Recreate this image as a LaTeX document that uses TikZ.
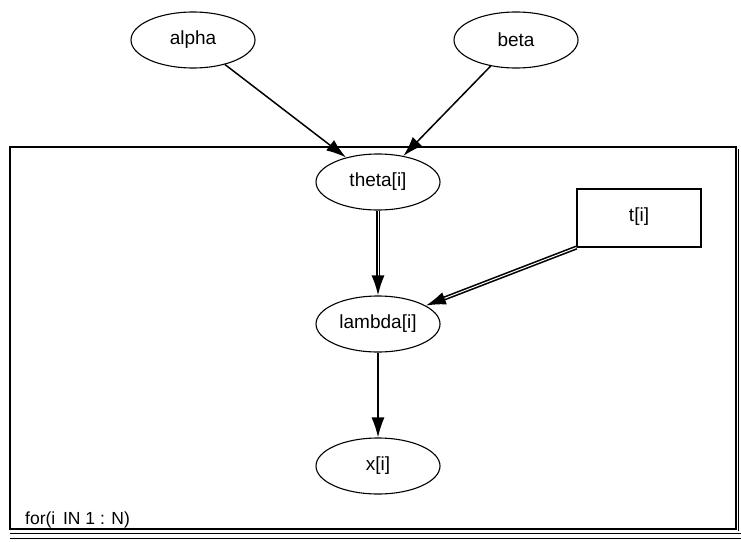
\documentclass[tikz,border=0pt]{standalone}
\usepackage{fontspec}
\setmainfont{Liberation Sans}
\usetikzlibrary{shapes.geometric,arrows.meta}

\begin{document}
\begin{tikzpicture}[x=1pt,y=-1pt,
  stoch/.style={draw,line width=1.1pt,ellipse,minimum width=124pt,
                minimum height=56pt,inner sep=0pt,font=\fontsize{19}{21}\selectfont},
  const/.style={draw,line width=1.1pt,rectangle,minimum width=124pt,
                minimum height=58pt,inner sep=0pt,font=\fontsize{19}{21}\selectfont},
  link/.style={-{Latex[length=20pt,width=13pt]},line width=1.5pt},
  logic/.style={-{Latex[length=20pt,width=13pt]},double=white,
                double distance=1pt,line width=1.6pt}]
  \useasboundingbox (0,0) rectangle (741,541);
  % plate with its shadow
  \draw[line width=1.3pt] (10,147) rectangle (736,529);
  \draw[line width=1pt] (738.5,149) -- (738.5,531);
  \draw[line width=1pt] (10,533.5) -- (741,533.5);
  \draw[line width=1pt] (10,538) -- (741,538);
  \node[anchor=base west,inner sep=0pt,font=\fontsize{17.5}{20}\selectfont] (plate) at (25,524) {for(i\, IN 1 : N)};
  % nodes
  \node[stoch] (alpha) at (193,40) {alpha};
  \node[stoch] (beta) at (516,40) {beta};
  \node[stoch] (theta) at (378,182) {theta[i]};
  \node[const] (ti) at (639,218) {\raisebox{6pt}{t[i]}};
  \node[stoch] (lam) at (378,324) {lambda[i]};
  \node[stoch] (xi) at (378,466) {x[i]};
  % edges
  \draw[link] (alpha) -- (theta);
  \draw[link] (beta) -- (theta);
  \draw[logic] (theta) -- (lam);
  \draw[logic] (ti.south west) -- (lam);
  \draw[link] (lam) -- (xi);
\end{tikzpicture}
\end{document}
